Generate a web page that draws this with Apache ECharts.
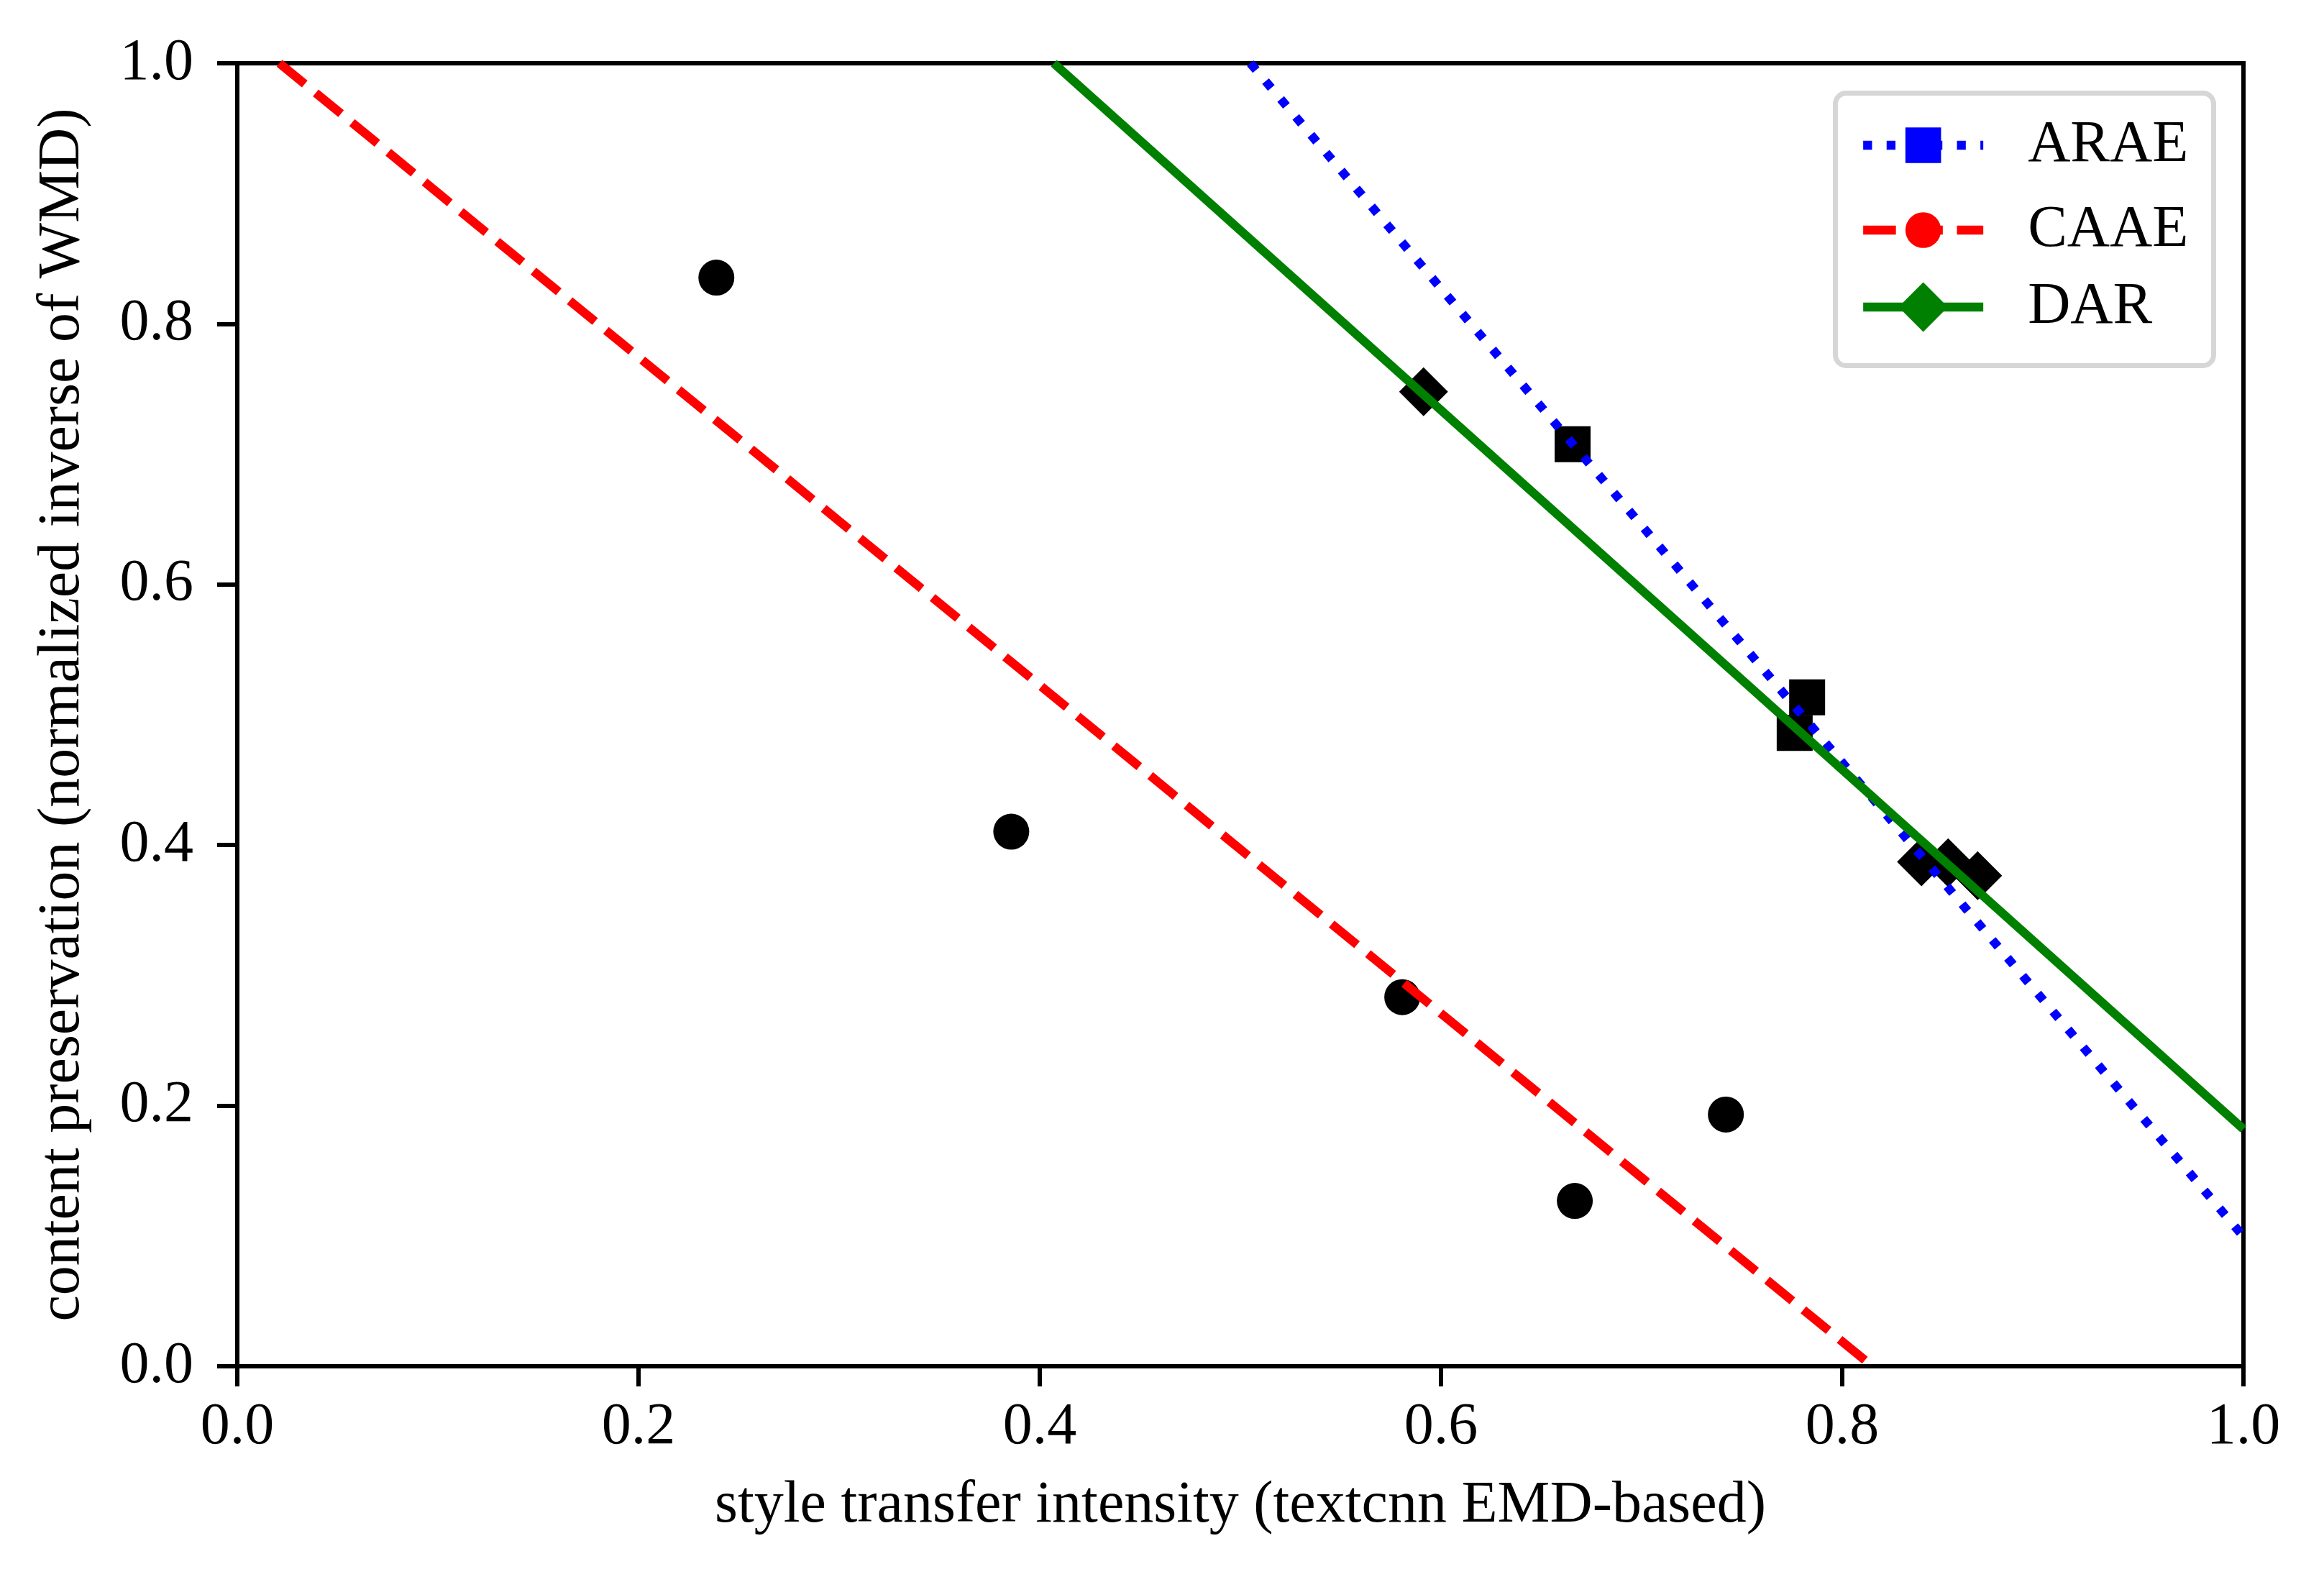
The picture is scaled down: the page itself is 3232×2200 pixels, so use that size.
<!DOCTYPE html>
<html><head><meta charset="utf-8">
<script src="https://cdn.jsdelivr.net/npm/echarts@6/dist/echarts.min.js"></script>
<style>html,body{margin:0;padding:0;background:#fff}#c{width:3232px;height:2200px}</style>
</head><body><div id="c"></div>
<script>
// ---- data ----
const seriesNames = ['ARAE', 'CAAE', 'DAR'];
const xTickValues = [0, 0.2, 0.4, 0.6, 0.8, 1.0];
const yTickValues = [0, 0.2, 0.4, 0.6, 0.8, 1.0];
const xAxisTitle = 'style transfer intensity (textcnn EMD-based)';
const yAxisTitle = 'content preservation (normalized inverse of WMD)';

const araePoints = [[0.6656, 0.7076], [0.7825, 0.5134], [0.7763, 0.4860]];
const caaePoints = [[0.2388, 0.8355], [0.3858, 0.4103], [0.5807, 0.2833], [0.6667, 0.1269], [0.7420, 0.1932]];
const darPoints  = [[0.5913, 0.7479], [0.8395, 0.3872], [0.8528, 0.3864], [0.8675, 0.3765]];

// fitted trend lines (end points)
const araeFit = [[0.505, 1.0], [1.0, 0.0995]];
const caaeFit = [[0.021, 1.0], [0.815, 0.0]];
const darFit  = [[0.407, 1.0], [1.0, 0.182]];

// ---- styling ----
const FONT = "'Liberation Serif', 'Times New Roman', 'DejaVu Serif', serif";
const FS = 82;
const LW = 12.3;

function fitSeries(name, data, color, dash, symbol) {
  return {
    name: name, type: 'line', data: data, z: 3,
    showSymbol: false, symbol: symbol, silent: true,
    lineStyle: { color: color, width: LW, type: dash, cap: 'butt' },
    itemStyle: { color: color, borderWidth: 0 },
    emphasis: { disabled: true }
  };
}
function pointSeries(name, data, symbol, size) {
  return {
    name: name, type: 'scatter', data: data, z: 2,
    symbol: symbol, symbolSize: size, silent: true,
    itemStyle: { color: '#000', opacity: 1, borderWidth: 0 },
    emphasis: { disabled: true }
  };
}
function mkLegend(name, centerY, ih) {
  return {
    show: true, data: [name], orient: 'vertical',
    left: 2585, top: centerY - ih / 2, padding: 0,
    itemWidth: 167, itemHeight: ih, selectedMode: false,
    lineStyle: { width: LW },
    textStyle: { fontFamily: FONT, fontSize: FS, color: '#000', padding: [0, 0, 0, 57] }
  };
}
const fmt = v => Number(v).toFixed(1);

const chart = echarts.init(document.getElementById('c'), null, { renderer: 'canvas' });
chart.setOption({
  animation: false,
  backgroundColor: '#fff',
  grid: {
    left: 330, top: 88, width: 2790, height: 1812,
    show: true, borderColor: '#000', borderWidth: 6,
    containLabel: false, outerBoundsMode: 'none'
  },
  graphic: [{
    type: 'rect', z: 1, silent: true,
    shape: { x: 2552.5, y: 129.5, width: 526, height: 379, r: 15 },
    style: { fill: '#fff', stroke: '#d6d6d6', lineWidth: 7 }
  }],
  legend: [
    mkLegend(seriesNames[0], 192, 62),
    mkLegend(seriesNames[1], 310, 62),
    mkLegend(seriesNames[2], 429, 86)
  ],
  xAxis: {
    type: 'value', min: xTickValues[0], max: xTickValues[xTickValues.length - 1], interval: 0.2,
    name: xAxisTitle, nameLocation: 'middle', nameGap: 153,
    nameTextStyle: { fontFamily: FONT, fontSize: FS, color: '#000' },
    axisLine: { show: true, onZero: false, lineStyle: { color: '#000', width: 6 } },
    axisTick: { show: true, inside: false, length: 28, lineStyle: { color: '#000', width: 6 } },
    axisLabel: { margin: 44, fontFamily: FONT, fontSize: FS, color: '#000', formatter: fmt },
    splitLine: { show: false }
  },
  yAxis: {
    type: 'value', min: yTickValues[0], max: yTickValues[yTickValues.length - 1], interval: 0.2,
    name: yAxisTitle, nameLocation: 'middle', nameGap: 202,
    nameTextStyle: { fontFamily: FONT, fontSize: FS, color: '#000' },
    axisLine: { show: true, onZero: false, lineStyle: { color: '#000', width: 6 } },
    axisTick: { show: true, inside: false, length: 28, lineStyle: { color: '#000', width: 6 } },
    axisLabel: { margin: 61, fontFamily: FONT, fontSize: FS, color: '#000', formatter: fmt },
    splitLine: { show: false }
  },
  series: [
    pointSeries('ARAE points', araePoints, 'rect', 50),
    pointSeries('CAAE points', caaePoints, 'circle', 50),
    pointSeries('DAR points', darPoints, 'diamond', 68),
    fitSeries(seriesNames[0], araeFit, '#0000ff', [LW, 1.65 * LW], 'rect'),
    fitSeries(seriesNames[1], caaeFit, '#ff0000', [3.7 * LW, 1.6 * LW], 'circle'),
    fitSeries(seriesNames[2], darFit, '#008000', 'solid', 'diamond')
  ]
});
</script>
</body></html>
